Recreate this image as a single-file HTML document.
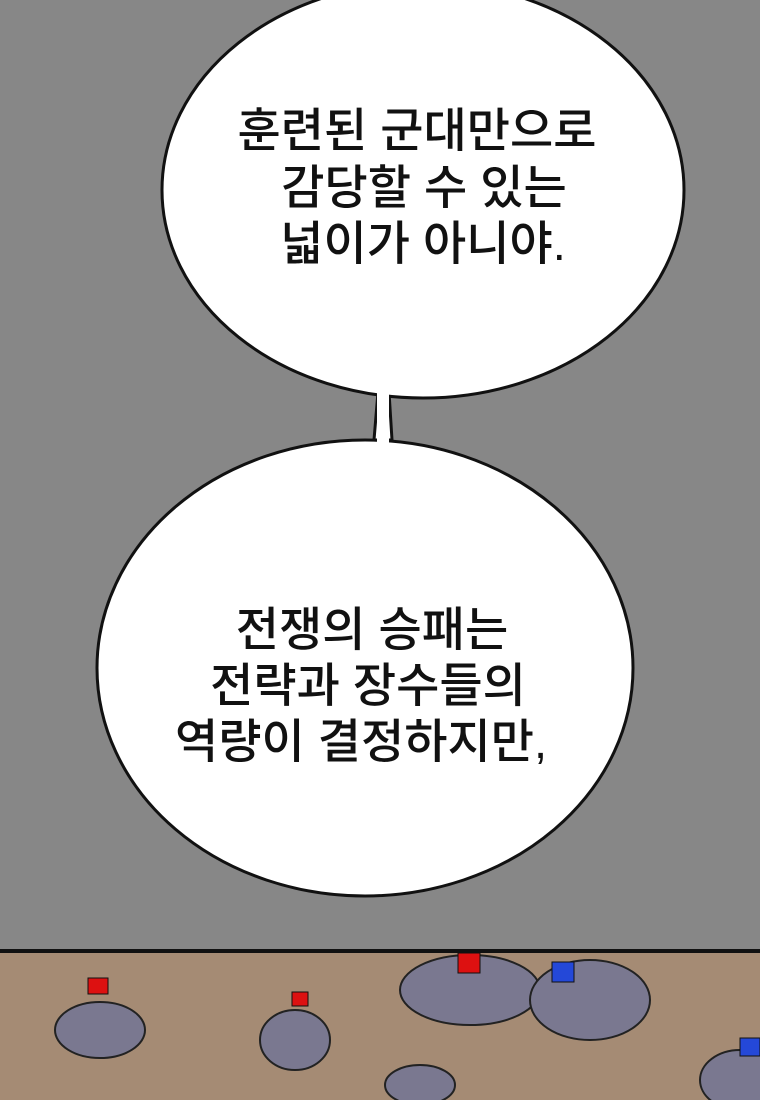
<!DOCTYPE html>
<html><head><meta charset="utf-8"><style>
body{margin:0;width:760px;height:1100px;overflow:hidden;background:#878787;}
svg{display:block}
</style></head><body>
<svg width="760" height="1100" viewBox="0 0 760 1100">
<rect width="760" height="1100" fill="#878787"/>
<rect x="0" y="950" width="760" height="150" fill="#a58b74"/>
<line x1="0" y1="951" x2="760" y2="951" stroke="#111" stroke-width="4"/>
<g fill="#7a7890" stroke="#222" stroke-width="2">
<ellipse cx="100" cy="1030" rx="45" ry="28"/>
<ellipse cx="295" cy="1040" rx="35" ry="30"/>
<ellipse cx="470" cy="990" rx="70" ry="35"/>
<ellipse cx="590" cy="1000" rx="60" ry="40"/>
<ellipse cx="740" cy="1080" rx="40" ry="30"/>
<ellipse cx="420" cy="1085" rx="35" ry="20"/>
</g>
<g stroke="#111" stroke-width="1">
<rect x="88" y="978" width="20" height="16" fill="#d11"/>
<rect x="292" y="992" width="16" height="14" fill="#d11"/>
<rect x="458" y="953" width="22" height="20" fill="#d11"/>
<rect x="552" y="962" width="22" height="20" fill="#2448d8"/>
<rect x="740" y="1038" width="20" height="18" fill="#2448d8"/>
</g>
<path d="M378 392 L374 440 L392 440 L389 392 Z" fill="#fff" stroke="#111" stroke-width="3"/>
<ellipse cx="423" cy="190" rx="261" ry="208" fill="#fff" stroke="#111" stroke-width="3"/>
<ellipse cx="365" cy="668" rx="268" ry="228" fill="#fff" stroke="#111" stroke-width="3"/>
<rect x="377" y="385" width="12" height="62" fill="#fff"/>
<g font-family="'Liberation Sans','Noto Sans CJK KR',sans-serif" font-size="47" font-weight="500" fill="#111" text-anchor="middle">
<text x="417" y="147">훈련된 군대만으로</text>
<text x="424" y="204">감당할 수 있는</text>
<text x="423" y="260">넓이가 아니야.</text>
<text x="372" y="646">전쟁의 승패는</text>
<text x="368" y="702">전략과 장수들의</text>
<text x="361" y="758">역량이 결정하지만,</text>
</g>
</svg>
</body></html>
